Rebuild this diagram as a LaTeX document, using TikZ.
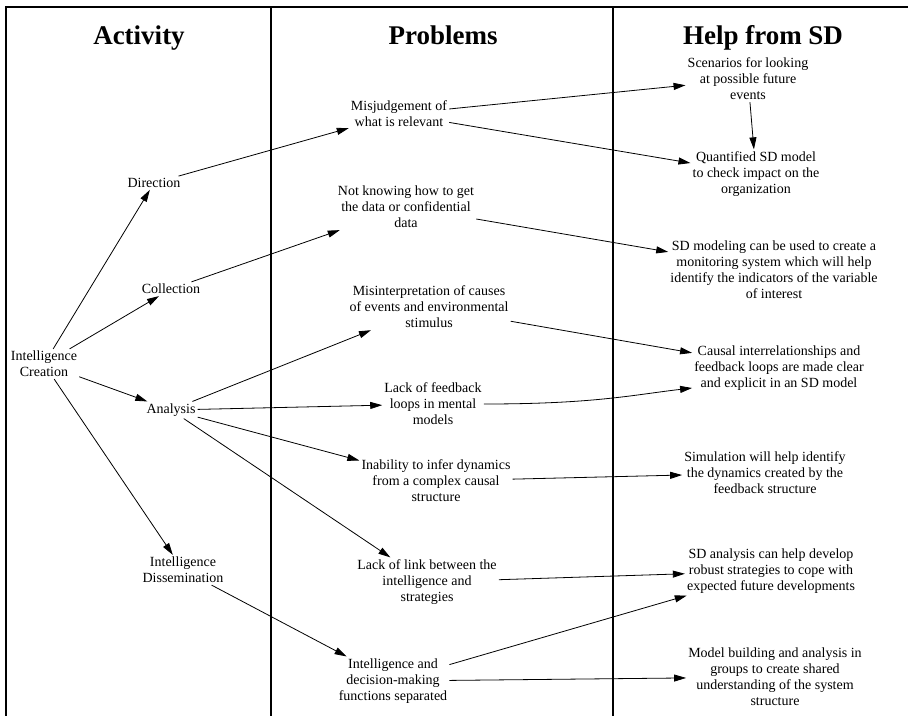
\documentclass[tikz,border=0pt]{standalone}
\usepackage{fontspec}
\setmainfont{Liberation Serif}
\usetikzlibrary{arrows.meta}

\begin{document}
\begin{tikzpicture}[x=1pt, y=-1pt,
    txt/.style={align=center, inner sep=2pt, font=\fontsize{14}{16}\selectfont},
    head/.style={anchor=base, inner sep=0pt, font=\fontsize{27}{30}\selectfont\bfseries},
    arr/.style={-{Triangle[length=12pt,width=7pt]}, line width=0.8pt},
    colline/.style={line width=1.6pt}]
    \useasboundingbox (0,0) rectangle (908,716);

    % Define table borders
    \def\tabtop{7}
    \def\tabbot{716}

    % Draw table frame and column lines
    \draw[colline] (908,\tabtop) -- (6,\tabtop) -- (6,\tabbot);
    \foreach \xpos in {271, 613} {
        \draw[colline] (\xpos,\tabtop) -- (\xpos,\tabbot);
    }

    % Draw column headings
    \foreach \head/\xpos [count=\i] in {Activity/139, Problems/443, Help from SD/763} {
        \node[head] (head\i) at (\xpos,44) {\head};
    }

    % Activities
    \foreach \name/\xpos/\ypos/\label in {%
      ic/44/364/{Intelligence\\Creation},%
      dir/154/183/{Direction},%
      coll/171/289/{Collection},%
      ana/171/410/{Analysis},%
      diss/183/570/{Intelligence\\Dissemination}%
    } {
        \node[txt] (\name) at (\xpos,\ypos) {\label};
    }

    % Problems
    \foreach \name/\xpos/\ypos/\label in {%
      misj/399/114/{Misjudgement of\\what is relevant},%
      data/406/207/{Not knowing how to get\\the data or confidential\\data},%
      misi/429/307/{Misinterpretation of causes\\of events and environmental\\stimulus},%
      lfb/433/404/{Lack of feedback\\loops in mental\\models},%
      inab/436/481/{Inability to infer dynamics\\from a complex causal\\structure},%
      link/427/582/{Lack of link between the\\intelligence and\\strategies},%
      sep/393/681/{Intelligence and\\decision-making\\functions separated}%
    } {
        \node[txt] (\name) at (\xpos,\ypos) {\label};
    }

    % Help from SD
    \foreach \name/\xpos/\ypos/\label in {%
      scen/748/79/{Scenarios for looking\\at possible future\\events},%
      quant/756/174/{Quantified SD model\\to check impact on the\\organization},%
      moni/774/270/{SD modeling can be used to create a\\monitoring system which will help\\identify the indicators of the variable\\of interest},%
      causal/779/368/{Causal interrelationships and\\feedback loops are made clear\\and explicit in an SD model},%
      simu/765/473/{Simulation will help identify\\the dynamics created by the\\feedback structure},%
      strat/771/571/{SD analysis can help develop\\robust strategies to cope with\\expected future developments},%
      group/775/677/{Model building and analysis in\\groups to create shared\\understanding of the system\\structure}%
    } {
        \node[txt] (\name) at (\xpos,\ypos) {\label};
    }

    % Draw arrows
    \foreach \from/\to in {ic/dir, ic/coll, ic/ana, ic/diss,
      dir/misj, coll/data, ana/misi, ana/lfb, ana/inab, ana/link, diss/sep,
      misj/scen, misj/quant, scen/quant, data/moni, misi/causal,
      inab/simu, link/strat, sep/strat, sep/group} {
        \draw[arr] (\from) -- (\to);
    }
    \draw[arr] (lfb.east) .. controls +(110,0) and +(-60,7) .. ([yshift=-20pt]causal.west);

\end{tikzpicture}
\end{document}
